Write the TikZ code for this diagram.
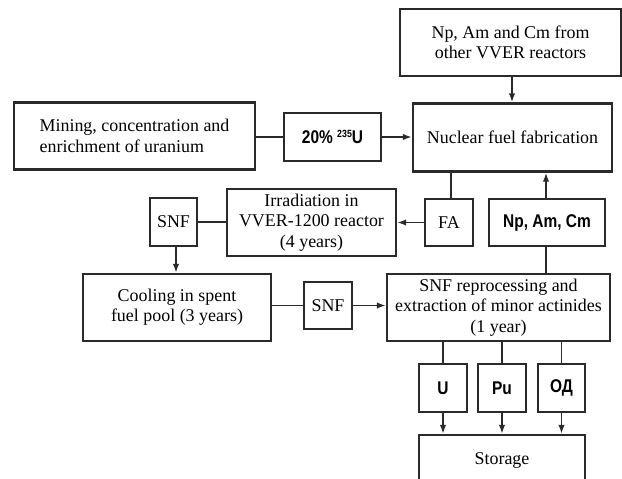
\documentclass[tikz,border=0pt]{standalone}
\usepackage{fontspec}
\setmainfont{Liberation Serif}
\newfontfamily\bsans[FakeStretch=0.84]{Liberation Sans}
\usetikzlibrary{arrows.meta}
\definecolor{ink}{HTML}{2A2A2A}
\tikzset{
  box/.style={draw=ink, line width=2.4bp, inner sep=0pt, align=center,
    font=\fontsize{18}{20.5}\selectfont, text=black},
  lbl/.style={box, font=\bsans\bfseries\fontsize{18.5}{20}\selectfont},
  conn/.style={draw=ink, line width=1.9bp},
  arr/.style={conn, -{Latex[length=9bp,width=6.5bp]}},
}
\begin{document}
\begin{tikzpicture}[x=1bp,y=-1bp]
\clip (0,0) rectangle (622,479);
\fill[white] (0,0) rectangle (622,479);
% boxes
\node[box, minimum width=221bp, minimum height=67bp] (top) at (510.5,42.5) {Np, Am and Cm from\\other VVER reactors};
\node[box, align=left, minimum width=241bp, minimum height=67bp] (mining) at (134.5,136) {Mining, concentration and\\enrichment of uranium};
\node[lbl, minimum width=97bp, minimum height=48bp] (u235) at (332.5,137) {20\% {\fontsize{10.5}{10}\selectfont\raisebox{6.5bp}{235}}U};
\node[box, minimum width=199bp, minimum height=68bp] (fab) at (512.5,137.5) {Nuclear fuel fabrication};
\node[box, minimum width=47bp, minimum height=48bp] (snf1) at (173.5,222) {SNF};
\node[box, minimum width=169bp, minimum height=67bp] (irr) at (311.5,222.5) {Irradiation in\\VVER-1200 reactor\\(4 years)};
\node[box, minimum width=48bp, minimum height=47bp] (fa) at (449,222.5) {FA};
\node[lbl, minimum width=116bp, minimum height=47bp] (nac) at (547,222.5) {Np, Am, Cm};
\node[box, minimum width=188bp, minimum height=67bp] (cool) at (177,307.5) {Cooling in spent\\fuel pool (3 years)};
\node[box, minimum width=48bp, minimum height=47bp] (snf2) at (328,305.5) {SNF};
\node[box, minimum width=223bp, minimum height=67bp] (repro) at (498.5,307.5) {SNF reprocessing and\\extraction of minor actinides\\(1 year)};
\node[lbl, minimum width=48bp, minimum height=48bp] (u) at (443,388) {U};
\node[lbl, minimum width=48bp, minimum height=48bp] (pu) at (502,388) {Pu};
\node[lbl, minimum width=47bp, minimum height=48bp] (od) at (561.5,388) {ОД};
\node[box, minimum width=166bp, minimum height=50bp] (stor) at (502,460) {Storage};
% connectors
\draw[arr] (top.south -| 512,0) -- (fab.north -| 512,0);
\draw[conn] (mining.east |- u235.west) -- (u235.west);
\draw[arr] (u235.east) -- (fab.west |- u235.east);
\draw[conn] (fa.north -| 451,0) -- (fab.south -| 451,0);
\draw[arr] (nac.north -| 546,0) -- (fab.south -| 546,0);
\draw[arr] (fa.west) -- (irr.east |- fa.west);
\draw[conn] (snf1.east) -- (irr.west |- snf1.east);
\draw[arr] (snf1.south -| 176,0) -- (cool.north -| 176,0);
\draw[conn] (cool.east |- snf2.west) -- (snf2.west);
\draw[arr] (snf2.east) -- (repro.west |- snf2.east);
\draw[conn] (repro.north -| 546,0) -- (nac.south -| 546,0);
\draw[conn] (repro.south -| u.north) -- (u.north);
\draw[conn] (repro.south -| pu.north) -- (pu.north);
\draw[conn] (repro.south -| od.north) -- (od.north);
\draw[arr] (u.south) -- (stor.north -| u.south);
\draw[arr] (pu.south) -- (stor.north -| pu.south);
\draw[arr] (od.south) -- (stor.north -| od.south);
\end{tikzpicture}
\end{document}
